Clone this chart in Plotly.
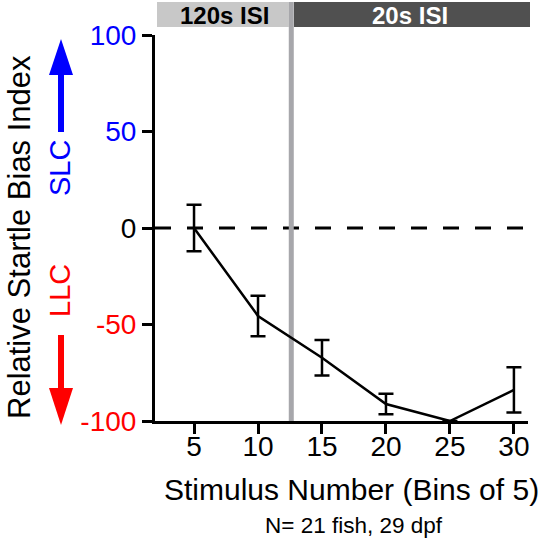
import plotly.graph_objects as go

# ---- data ----
stimulus_bins = [5, 10, 15, 20, 25, 30]
bias_index = [0, -45.6, -67.2, -91.2, -100, -83.9]
bias_sem = [12, 10.5, 9.2, 5.3, 0, 11.7]
ytick_vals = [100, 50, 0, -50, -100]
ytick_colors = ["blue", "blue", "black", "red", "red"]
xtick_vals = [5, 10, 15, 20, 25, 30]
isi_boundary = 12.6
banner_labels = ["120s ISI", "20s ISI"]

FONT = "Arial, Liberation Sans, sans-serif"
W, H = 549, 539
L, R, T, B = 155, 21, 35, 118
PW, PH = W - L - R, H - T - B
XR = [1.95, 31.1]


def px(xp):
    return (xp - L) / PW


def py(yp):
    return (H - B - yp) / PH


fig = go.Figure()
fig.add_trace(go.Scatter(
    x=stimulus_bins, y=bias_index, mode="lines",
    line=dict(color="black", width=2.5),
    error_y=dict(type="data", array=bias_sem, visible=True,
                 color="black", thickness=2.5, width=7.5),
    showlegend=False, cliponaxis=False, hoverinfo="skip",
))

shapes = []
# dashed zero line
shapes.append(dict(type="line", xref="paper", yref="y", x0=0, x1=1, y0=0, y1=0,
                   line=dict(color="black", width=3, dash="16px,16px"), layer="below"))
# ISI boundary
shapes.append(dict(type="line", xref="x", yref="paper", x0=isi_boundary, x1=isi_boundary,
                   y0=0, y1=py(2), line=dict(color="#a7a7ab", width=5), layer="below"))
# banners
shapes.append(dict(type="rect", xref="paper", yref="paper", x0=px(157), x1=px(289),
                   y0=py(27), y1=py(2), fillcolor="#c8c8c8", line=dict(width=0)))
shapes.append(dict(type="rect", xref="paper", yref="paper", x0=px(294), x1=px(530),
                   y0=py(27), y1=py(2), fillcolor="#505050", line=dict(width=0)))
# blue arrow (SLC)
shapes.append(dict(type="line", xref="paper", yref="paper", x0=px(61), x1=px(61),
                   y0=py(132), y1=py(72), line=dict(color="blue", width=6)))
shapes.append(dict(type="path", xref="paper", yref="paper",
                   path=f"M {px(49)} {py(75)} L {px(73)} {py(75)} L {px(61)} {py(39)} Z",
                   fillcolor="blue", line=dict(width=0)))
# red arrow (LLC)
shapes.append(dict(type="line", xref="paper", yref="paper", x0=px(61), x1=px(61),
                   y0=py(335), y1=py(391), line=dict(color="red", width=6)))
shapes.append(dict(type="path", xref="paper", yref="paper",
                   path=f"M {px(49)} {py(388)} L {px(73)} {py(388)} L {px(61)} {py(425)} Z",
                   fillcolor="red", line=dict(width=0)))


def label(text, xp, yp, size, color, angle=0):
    return dict(text=text, xref="paper", yref="paper", x=px(xp), y=py(yp),
                xanchor="center", yanchor="middle", textangle=angle, showarrow=False,
                font=dict(family=FONT, size=size, color=color))


annotations = [
    label("<b>%s</b>" % banner_labels[0], 224, 15, 24, "black"),
    label("<b>%s</b>" % banner_labels[1], 410, 15, 24, "white"),
    label("SLC", 60, 168, 29, "blue", -90),
    label("LLC", 60, 291, 29, "red", -90),
    label("Relative Startle Bias Index", 19, 237, 31, "black", -90),
    label("Stimulus Number (Bins of 5)", 351, 489, 30, "black"),
    label("N= 21 fish, 29 dpf", 354, 525, 22.5, "black"),
]

fig.update_layout(
    width=W, height=H, margin=dict(l=L, r=R, t=T, b=B),
    paper_bgcolor="white", plot_bgcolor="white",
    shapes=shapes, annotations=annotations,
    font=dict(family=FONT), hovermode=False,
)
fig.update_xaxes(range=XR, tickvals=xtick_vals, ticks="outside", ticklen=10, tickwidth=3,
                 tickcolor="black", showline=True, linecolor="black", linewidth=3,
                 ticklabelstandoff=-12,
                 showgrid=False, zeroline=False, tickfont=dict(family=FONT, size=28, color="black"))
fig.update_yaxes(range=[-100, 100], tickvals=ytick_vals,
                 ticktext=[f'<span style="color:{c}">{v}</span>' for v, c in zip(ytick_vals, ytick_colors)],
                 ticks="outside", ticklen=10, tickwidth=3, tickcolor="black",
                 showline=True, linecolor="black", linewidth=3, showgrid=False, zeroline=False,
                 tickfont=dict(family=FONT, size=28, color="black"))

fig.write_html("out.html", config={"displayModeBar": False},
               post_script="document.body.style.margin='0';document.body.style.overflow='hidden';")
